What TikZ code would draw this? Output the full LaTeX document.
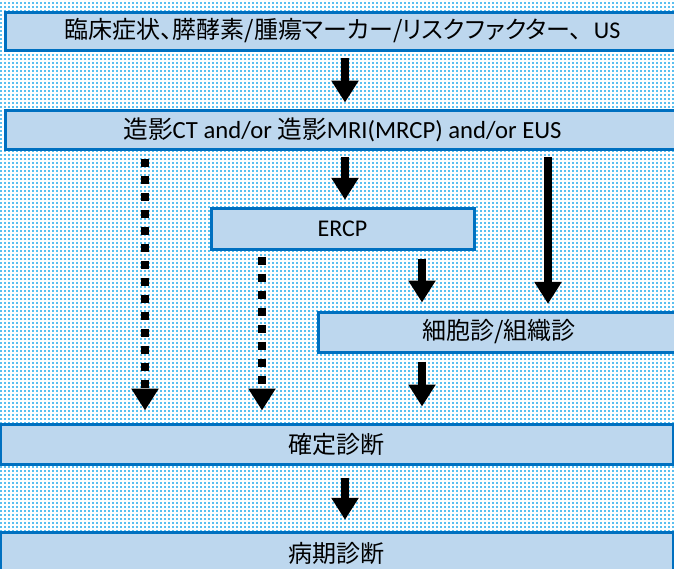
\documentclass[tikz,border=0pt]{standalone}
\usepackage{fontspec}
\setmainfont{Carlito}
\newfontfamily\jp{Noto Sans CJK JP}
\newfontfamily\jpp{Noto Sans CJK JP}[RawFeature=+palt]
\usetikzlibrary{arrows.meta,patterns}
\definecolor{dotblue}{RGB}{91,192,240}
\definecolor{boxfill}{RGB}{189,215,238}
\definecolor{boxline}{RGB}{0,112,192}
\pgfdeclarepatternformonly{bgdots}{\pgfqpoint{-0.1pt}{-0.1pt}}{\pgfqpoint{3.1pt}{3.1pt}}{\pgfqpoint{3pt}{3pt}}{%
  \pgfpathrectangle{\pgfpointorigin}{\pgfqpoint{1.5pt}{1.5pt}}\pgfusepath{fill}}

\begin{document}
\begin{tikzpicture}[
    x=0.75pt, y=-0.75pt,
    box/.style={rectangle, draw=boxline, fill=boxfill, line width=2.25pt, inner sep=0pt, text centered, font=\fontsize{18pt}{20pt}\selectfont},
    flow/.style={-{Triangle[width=19.5pt,length=16.5pt]}, line width=6pt, black},
    maybe/.style={flow, dash pattern=on 6.5pt off 6.25pt}
]
    % Background
    \useasboundingbox (0,0) rectangle (674,568);
    \fill[white] (0,0) rectangle (674,568);
    \fill[pattern=bgdots, pattern color=dotblue] (0,0) rectangle (674,568);

    % Boxes
    \node[box, minimum width=506.25pt, minimum height=28.5pt] (clin) at (342.5,31) {{\jpp 臨床症状、膵酵素/腫瘍マーカー/リスクファクター}{\jp 、}US};
    \node[box, minimum width=506.25pt, minimum height=29.25pt] (img) at (342.5,129.5) {\fontsize{18.5pt}{20pt}\selectfont{\jp 造影}CT and/or {\jp 造影}MRI(MRCP) and/or EUS};
    \node[box, minimum width=197.25pt, minimum height=30.75pt] (ercp) at (342.5,228.5) {ERCP};
    \node[box, minimum width=271.5pt, minimum height=30pt] (cyto) at (499,332) {\jp 細胞診/組織診};
    \node[box, minimum width=504.75pt, minimum height=30pt] (dx) at (336.5,444) {\jp 確定診断};
    \node[box, minimum width=504.75pt, minimum height=31.5pt] (stage) at (336.5,553) {\jp 病期診断};

    % Columns
    \coordinate (colL) at (145,0);
    \coordinate (colE) at (262,0);
    \coordinate (colM) at (345,0);
    \coordinate (colC) at (422,0);
    \coordinate (colR) at (548,0);

    % Flow
    \draw[flow, shorten <=5pt, shorten >=4.5pt] (clin.south -| colM) -- (img.north -| colM);
    \draw[flow, shorten <=5pt, shorten >=5pt] (img.south -| colM) -- (ercp.north -| colM);
    \draw[flow, shorten <=5pt, shorten >=5pt] (img.south -| colR) -- (cyto.north -| colR);
    \draw[flow, shorten <=6pt, shorten >=6pt] (ercp.south -| colC) -- (cyto.north -| colC);
    \draw[flow, shorten <=6pt, shorten >=12pt] (cyto.south -| colC) -- (dx.north -| colC);
    \draw[flow, shorten <=9pt, shorten >=8pt] (dx.south -| colM) -- (stage.north -| colM);

    % Optional flow
    \draw[maybe, shorten <=6pt, shorten >=9pt] (img.south -| colL) -- (dx.north -| colL);
    \draw[maybe, shorten <=4.5pt, shorten >=9pt] (ercp.south -| colE) -- (dx.north -| colE);
\end{tikzpicture}
\end{document}
